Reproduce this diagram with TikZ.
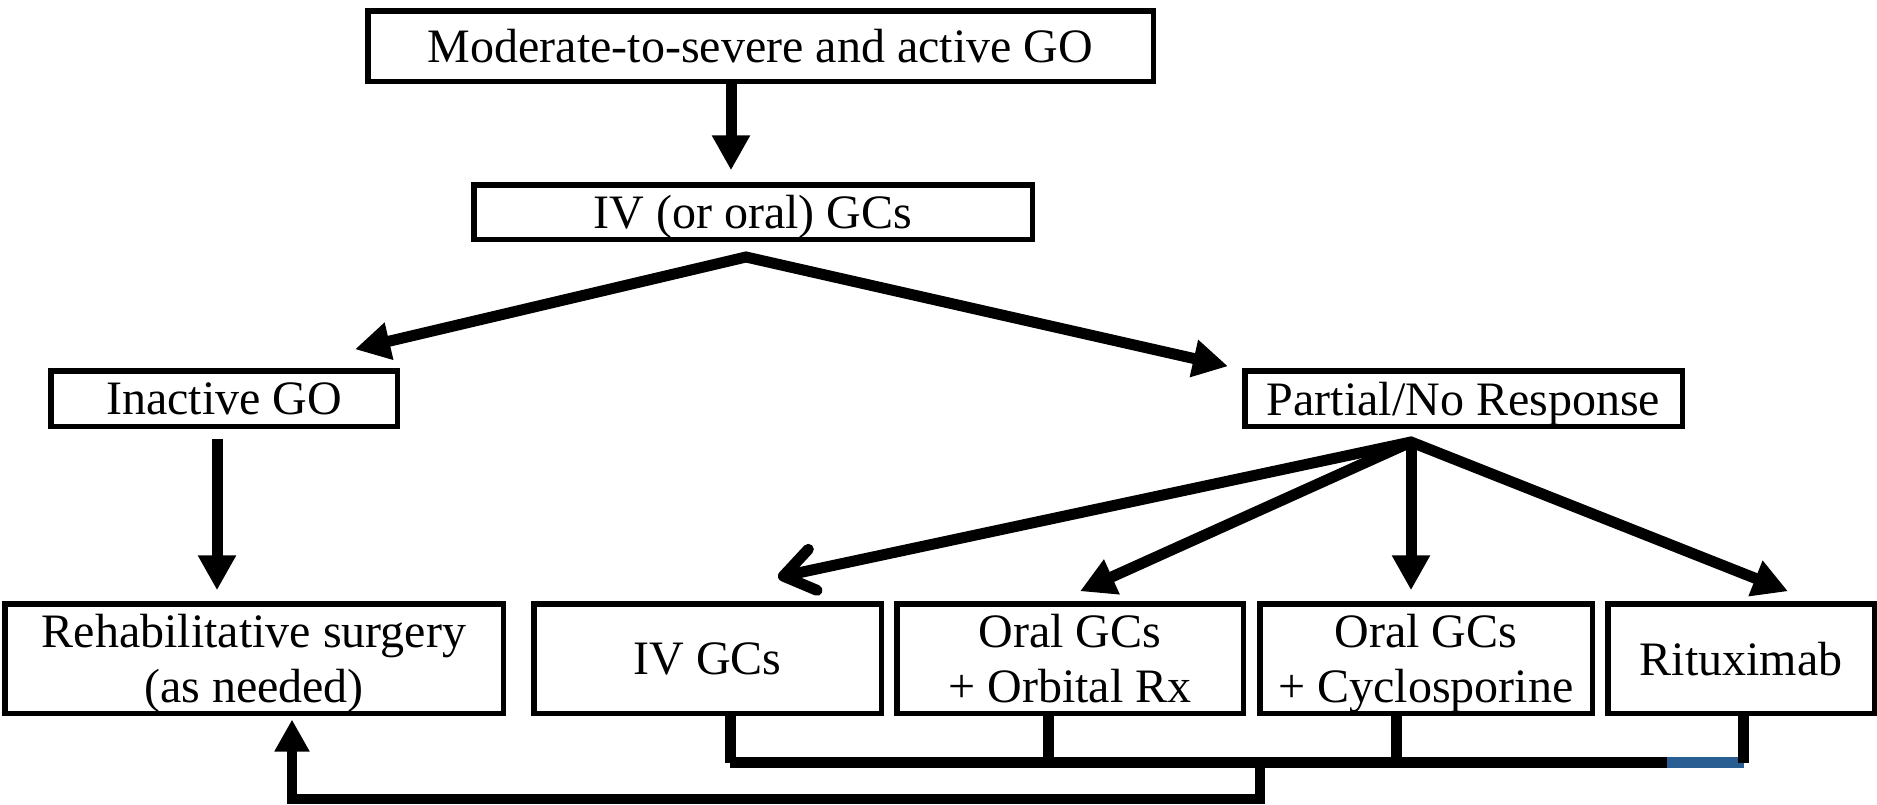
\documentclass[tikz,border=0pt]{standalone}
\usepackage{fontspec}
\setmainfont{Liberation Serif}
\usetikzlibrary{arrows.meta,calc}
\definecolor{barblue}{RGB}{40,94,145}
\tikzset{
  box/.style={draw, line width=5.5pt, inner sep=0pt, align=center, text depth=0pt, font=\fontsize{48}{55}\selectfont},
  arr/.style={line width=11pt, -{Triangle[length=35pt,width=36pt]}},
  link/.style={line width=11pt},
}
\begin{document}
\begin{tikzpicture}[x=1pt,y=-1pt]
\useasboundingbox (0,0) rectangle (1877,804);
\fill[white] (0,0) rectangle (1877,804);

\node[box, minimum width=785.5pt, minimum height=70.5pt] (top) at (760.5,46) {Moderate-to-severe and active GO};
\node[box, minimum width=558.5pt, minimum height=54.5pt] (ivoral) at (753,212) {IV (or oral) GCs};
\node[box, minimum width=346.5pt, minimum height=55.5pt] (inactive) at (224,398.5) {Inactive GO};
\node[box, minimum width=437.5pt, minimum height=55.5pt] (partial) at (1463.5,398.5) {Partial/No Response};

\node[box, minimum width=498.5pt, minimum height=109.5pt] (rehab) at (254,658.5) {Rehabilitative surgery\\(as needed)};
\node[box, minimum width=347.5pt, minimum height=109.5pt] (ivgc) at (707.5,658.5) {IV GCs};
\node[box, minimum width=346.5pt, minimum height=109.5pt] (orbital) at (1070,658.5) {Oral GCs\\+ Orbital Rx};
\node[box, minimum width=332.5pt, minimum height=109.5pt] (cyclo) at (1426,658.5) {Oral GCs\\+ Cyclosporine};
\node[box, minimum width=266.5pt, minimum height=109.5pt] (ritux) at (1741,658.5) {Rituximab};

% top arrows
\draw[arr] ($(top.south)+(-29.5,0)$) -- ($(ivoral.north)+(-22,-11.75)$);
\coordinate (s1) at (746,257);
\draw[line width=11pt, line join=miter, {Triangle[length=35pt,width=36pt]}-{Triangle[length=35pt,width=36pt]}]
  ($(inactive.north)+(131,-18.75)$) -- (s1) -- ($(partial.north)+(-235.5,-1.75)$);
\draw[arr] ($(inactive.south)+(-7,9.75)$) -- ($(rehab.north)+(-37,-10.75)$);

% response arrows
\coordinate (s2) at (1411,442);
\draw[line width=11pt, line join=miter, {Straight Barb[length=30pt,width=42pt,round]}-{Triangle[length=35pt,width=36pt]}]
  ($(ivgc.north)+(70.5,-23.75)$) -- (s2) -- ($(ritux.north)+(47,-9.75)$);
\draw[arr] (s2) -- ($(orbital.north)+(10,-9.75)$);
\draw[arr] (s2) -- ($(cyclo.north)+(-15,-10.75)$);

% bottom connectors
\coordinate (barL) at (730,762.5);
\coordinate (blueL) at (1667,762.5);
\coordinate (barR) at (1743.5,762.5);
\coordinate (f2) at (1048,762.5);
\coordinate (f3) at (1396,762.5);
\coordinate (drop) at (1260,762.5);
\coordinate (botL) at (292,798.5);
\draw[link] (barL) -- (blueL);
\draw[link, barblue] (blueL) -- (barR);
\draw[link] (ivgc.south -| barL) -- (barL);
\draw[link] (orbital.south -| f2) -- (f2);
\draw[link] (cyclo.south -| f3) -- (f3);
\draw[link] (ritux.south -| barR) -- (barR);
\draw[line width=10pt, line join=miter, -{Triangle[length=32pt,width=33pt]}]
  (drop) |- (botL) -- ($(rehab.south -| botL)+(0,3.5)$);
\end{tikzpicture}
\end{document}
